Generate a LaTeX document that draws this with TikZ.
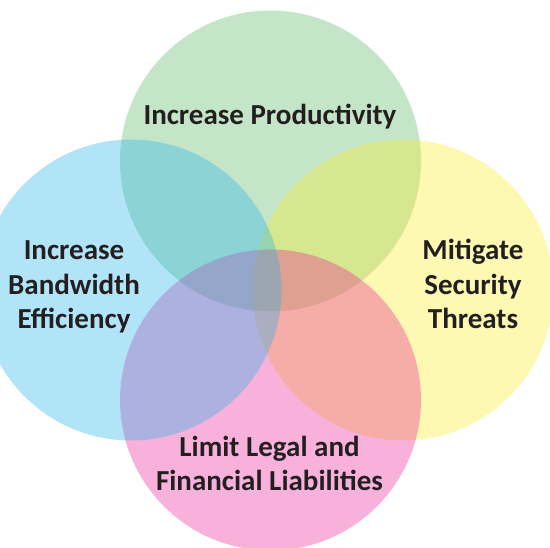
\documentclass[tikz,border=0pt]{standalone}
\usepackage{fontspec}
\setmainfont{Carlito}
\definecolor{cgreen}{RGB}{89,181,101}
\definecolor{cblue}{RGB}{35,178,235}
\definecolor{cyellow}{RGB}{249,235,35}
\definecolor{cpink}{RGB}{235,32,149}
\definecolor{ctext}{RGB}{35,31,32}
\tikzset{
  venn/.style={circle, minimum size=301pt, inner sep=0pt, fill opacity=0.35, draw=none},
  lbl/.style={font=\bfseries\fontsize{29}{34.5}\selectfont, text=ctext, align=center, inner sep=0pt, anchor=base}
}
\begin{document}
\begin{tikzpicture}[x=1pt,y=-1pt]
\useasboundingbox (0,0) rectangle (550,548);
\clip (0,0) rectangle (550,548);
\node[venn, fill=cgreen] (prod) at (270.5,161) {};
\node[venn, fill=cyellow] (sec) at (403,290) {};
\node[venn, fill=cpink] (legal) at (270.5,400) {};
\node[venn, fill=cblue] (band) at (131,290) {};
\node[lbl] (tprod) at (270,124.5) {Increase Productivity};
\node[lbl] (tband) at (74,329) {Increase\\Bandwidth\\Efficiency};
\node[lbl] (tsec) at (473,329) {Mitigate\\Security\\Threats};
\node[lbl] (tlegal) at (269.5,491) {Limit Legal and\\Financial Liabilities};
\end{tikzpicture}
\end{document}
